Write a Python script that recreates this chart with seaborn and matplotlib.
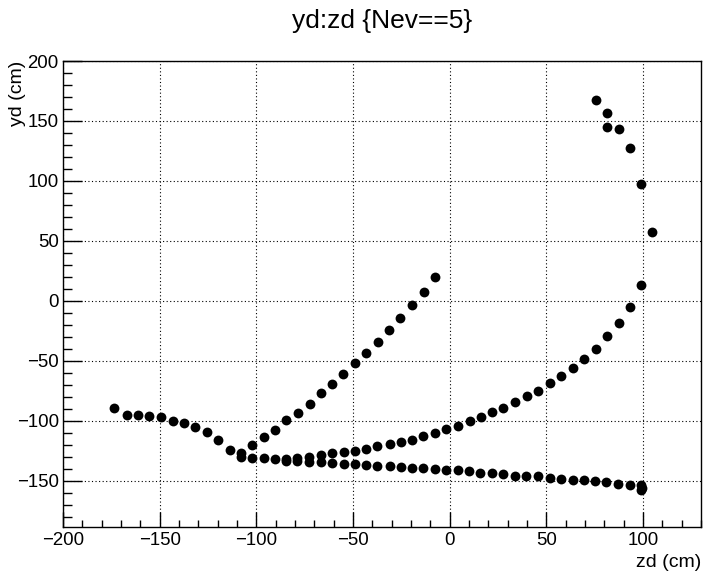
import numpy as np
import pandas as pd
import matplotlib
matplotlib.use("Agg")
import matplotlib.pyplot as plt
from matplotlib.ticker import MultipleLocator
import seaborn as sns

# ---- data ----
trackA_zd = [-173.6, -166.8, -161.2, -155.3, -149.3, -143.2, -137.4, -131.5, -125.7, -119.7, -113.8, -108.1]
trackA_yd = [-89.1, -95.0, -95.0, -95.8, -96.9, -100.0, -101.7, -105.5, -109.4, -116.0, -124.6, -126.8]

bottom_zd = [-108.1, -102.2, -96.2, -90.1, -84.4, -78.8, -72.7, -66.7, -60.9, -54.8, -49.1, -43.1, -37.4,
             -31.0, -25.3, -19.5, -13.6, -7.8, -1.7, 4.1, 10.0, 15.9, 21.9, 27.8, 33.6, 39.7, 45.7, 51.9,
             57.7, 63.8, 69.6, 75.3, 81.0, 87.2, 93.1, 99.1, 99.3, 99.1]
bottom_yd = [-130.4, -130.7, -131.0, -131.6, -133.5, -133.5, -134.5, -134.5, -134.8, -135.6, -135.6, -137.0, -137.9,
             -137.6, -138.4, -139.5, -139.5, -140.4, -141.2, -141.2, -142.0, -143.4, -143.4, -144.5, -145.6, -146.2,
             -146.2, -147.3, -148.1, -148.9, -148.9, -150.1, -150.9, -152.3, -153.1, -153.7, -156.0, -158.0]

middle_zd = [-84.4, -78.8, -72.7, -66.7, -60.9, -54.8, -49.1, -43.1, -37.4, -31.0, -25.3, -19.5, -13.6, -7.8,
             -1.7, 4.1, 10.3, 16.4, 21.9, 27.7, 34.0, 40.1, 45.5, 51.8, 57.4, 63.8, 69.6, 75.5, 81.5, 87.4,
             93.2, 99.1, 104.4, 99.1, 93.1, 87.4, 81.5, 81.5, 75.5]
middle_yd = [-131.6, -130.7, -130.1, -128.2, -126.8, -126.0, -125.2, -123.2, -121.0, -119.0, -117.7, -115.7,
             -113.0, -109.9, -107.1, -104.4, -100.1, -96.6, -92.9, -89.1, -84.5, -79.7, -75.0, -68.5, -62.6,
             -55.9, -48.4, -39.9, -29.3, -18.3, -4.7, 13.3, 57.2, 97.8, 127.3, 143.7, 145.3, 157.0, 167.5]

rising_zd = [-102.1, -96.2, -90.1, -84.4, -78.6, -72.5, -66.7, -60.9, -55.2, -49.1, -43.1, -37.1, -31.4,
             -25.5, -19.5, -13.4, -7.6]
rising_yd = [-120.4, -113.8, -107.4, -99.7, -93.5, -85.8, -77.0, -69.2, -60.9, -52.1, -43.8, -34.1, -24.4,
             -14.4, -3.6, 7.7, 19.9]

title_text = "yd:zd {Nev==5}"
x_label = "zd (cm)"
y_label = "yd (cm)"

df = pd.DataFrame({
    "zd": trackA_zd + bottom_zd + middle_zd + rising_zd,
    "yd": trackA_yd + bottom_yd + middle_yd + rising_yd,
})

# ---- style ----
sns.set_style("white")
plt.rcParams["font.family"] = ["Liberation Sans", "DejaVu Sans"]
plt.rcParams["text.color"] = "black"
plt.rcParams["axes.labelcolor"] = "black"
plt.rcParams["xtick.color"] = "black"
plt.rcParams["ytick.color"] = "black"

W, H = 704, 573
fig = plt.figure(figsize=(W / 100, H / 100), dpi=100)
left, right, top, bottom = 63, 701, 61, 527
ax = fig.add_axes([left / W, 1 - bottom / H, (right - left) / W, (bottom - top) / H])

sns.scatterplot(data=df, x="zd", y="yd", ax=ax, color="black", s=50, linewidth=0, legend=False, zorder=3)

ax.set_xlim(-200, 130)
ax.set_ylim(-188.5, 200)

ax.xaxis.set_major_locator(MultipleLocator(50))
ax.xaxis.set_minor_locator(MultipleLocator(10))
ax.yaxis.set_major_locator(MultipleLocator(50))
ax.yaxis.set_minor_locator(MultipleLocator(10))

ax.grid(True, which="major", color="black", linestyle=(0, (1, 2.2)), linewidth=0.8)
ax.set_axisbelow(True)

for side in ["left", "bottom", "top", "right"]:
    ax.spines[side].set_visible(True)
    ax.spines[side].set_color("black")
    ax.spines[side].set_linewidth(1.0)

ax.tick_params(axis="x", which="major", direction="in", length=10.5, width=1.0, labelsize=13.4, pad=3.5,
               top=False, bottom=True, colors="black")
ax.tick_params(axis="x", which="minor", direction="in", length=5, width=1.0, top=False, bottom=True)
ax.tick_params(axis="y", which="major", direction="in", length=13.7, width=1.0, labelsize=13.4, pad=3,
               right=False, left=True, colors="black")
ax.tick_params(axis="y", which="minor", direction="in", length=6.8, width=1.0, right=False, left=True)

ax.set_xlabel(x_label, fontsize=14, loc="right", color="black")
ax.set_ylabel(y_label, fontsize=14, loc="top", color="black")
ax.xaxis.set_label_coords(1.0, (bottom - 554) / (bottom - top))
ax.yaxis.set_label_coords((26 - left) / (right - left), 1.0)
ax.xaxis.label.set_va("top")
ax.xaxis.label.set_ha("right")

fig.text(((left + right) / 2) / W, 1 - 28 / H, title_text, ha="center", va="baseline", fontsize=19,
         color="black")

fig.savefig("out.png", dpi=100)
